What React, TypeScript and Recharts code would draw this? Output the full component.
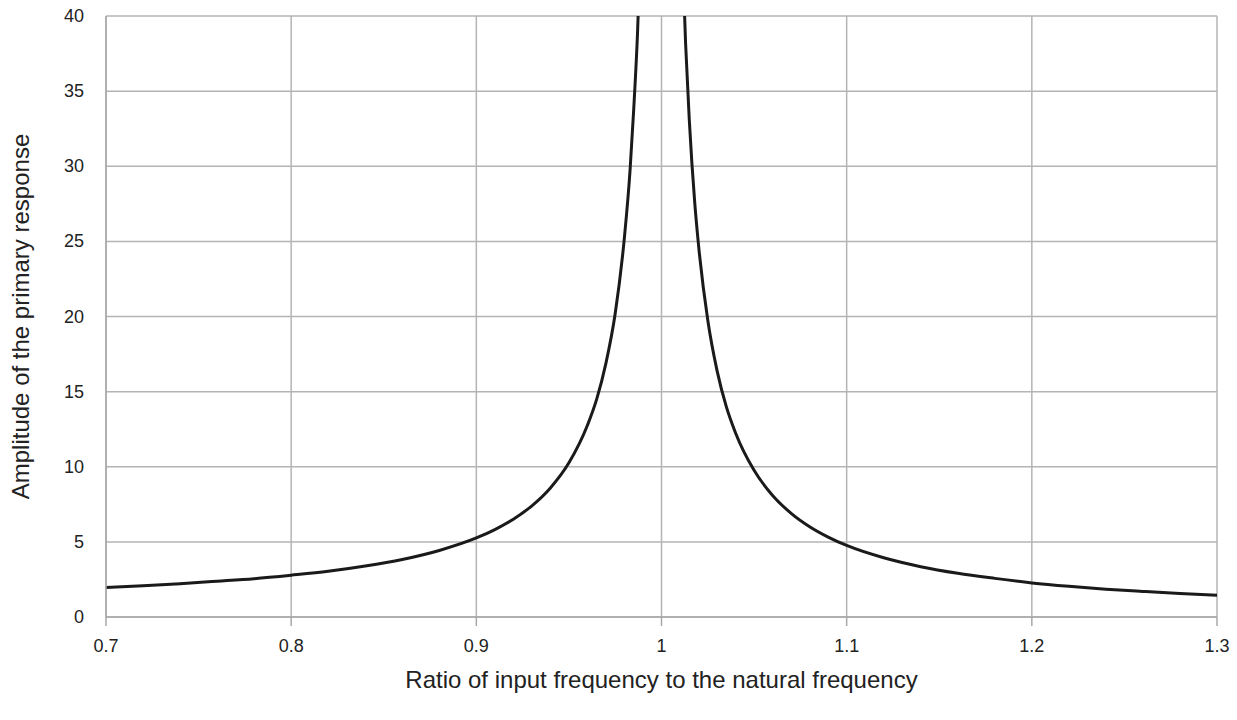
import React from "react";
import { LineChart, Line, XAxis, YAxis, CartesianGrid } from "recharts";

const ratios = [
  0.7, 0.72, 0.74, 0.76, 0.78, 0.8, 0.82, 0.84, 0.86, 0.88, 0.9, 0.91, 0.92, 0.93, 0.94, 0.95, 0.96, 0.965, 0.97, 0.975, 0.98, 0.983, 0.985, 0.987, 0.989, 0.991,
  1.0,
  1.009, 1.011, 1.013, 1.015, 1.018, 1.02, 1.025, 1.03, 1.035, 1.04, 1.05, 1.06, 1.07, 1.08, 1.09, 1.1, 1.12, 1.14, 1.16, 1.18, 1.2, 1.22, 1.24, 1.26, 1.28, 1.3,
];
const amplitudes: (number | null)[] = [
  1.96, 2.08, 2.22, 2.38, 2.55, 2.78, 3.04, 3.39, 3.83, 4.43, 5.26, 5.82, 6.51, 7.4, 8.59, 10.26, 12.76, 14.5, 16.9, 20.2, 25.3, 29.7, 33.8, 38.7, 45.7, 55.9,
  null,
  55.3, 45.2, 38.2, 33.1, 27.5, 24.75, 19.75, 16.4, 14.0, 12.25, 9.76, 8.09, 6.9, 6.01, 5.32, 4.76, 3.94, 3.35, 2.91, 2.57, 2.27, 2.04, 1.85, 1.7, 1.56, 1.45,
];
const xTicks = [0.7, 0.8, 0.9, 1, 1.1, 1.2, 1.3];
const yTicks = [0, 5, 10, 15, 20, 25, 30, 35, 40];

const data = ratios.map((r, i) => ({ r, a: amplitudes[i] }));

const FONT = "Liberation Sans, Arial, sans-serif";

const XTick = (props: any) => {
  const { x, y, payload } = props;
  return (
    <text x={x} y={y + 24} textAnchor="middle" fill="#222" fontSize={18} fontFamily={FONT}>
      {String(Number(Number(payload.value).toFixed(1)))}
    </text>
  );
};

const YTick = (props: any) => {
  const { x, y, payload } = props;
  return (
    <text x={x - 14} y={y + 6} textAnchor="end" fill="#222" fontSize={18} fontFamily={FONT}>
      {String(payload.value)}
    </text>
  );
};

export default function App() {
  return (
    <div style={{ position: "absolute", left: 0, top: 0, background: "#fff" }}>
      <LineChart
        width={1237}
        height={720}
        data={data}
        margin={{ top: 16, right: 20, bottom: 0, left: 0 }}
      >
        <CartesianGrid stroke="#b4b4b4" strokeWidth={1.5} horizontal vertical />
        <XAxis
          dataKey="r"
          type="number"
          domain={[0.7, 1.3]}
          ticks={xTicks}
          height={103}
          stroke="#a8a8a8"
          strokeWidth={1.5}
          tickSize={9}
          tick={<XTick />}
          label={{
            value: "Ratio of input frequency to the natural frequency",
            position: "insideBottom",
            offset: 32,
            fill: "#222",
            fontSize: 24,
            fontFamily: FONT,
          }}
        />
        <YAxis
          type="number"
          domain={[0, 40]}
          ticks={yTicks}
          allowDataOverflow
          width={106}
          stroke="#a8a8a8"
          strokeWidth={1.5}
          tickLine={false}
          tick={<YTick />}
          label={{
            value: "Amplitude of the primary response",
            angle: -90,
            position: "insideLeft",
            offset: 20,
            style: { textAnchor: "middle" },
            fill: "#222",
            fontSize: 24,
            fontFamily: FONT,
          }}
        />
        <Line
          type="monotone"
          dataKey="a"
          stroke="#1a1a1a"
          strokeWidth={3}
          dot={false}
          connectNulls={false}
          isAnimationActive={false}
        />
      </LineChart>
    </div>
  );
}
